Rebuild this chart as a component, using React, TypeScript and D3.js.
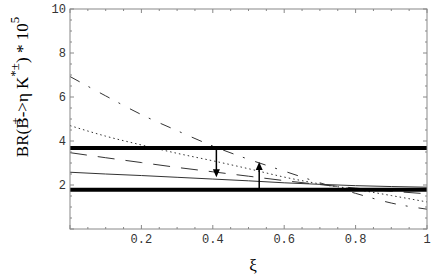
import React, { useEffect, useRef } from 'react';
import * as d3 from 'd3';

// values
const xi = [0, 0.1, 0.2, 0.3, 0.4, 0.5, 0.6, 0.7, 0.8, 0.9, 1];
const solidBR = [2.58, 2.5, 2.43, 2.35, 2.27, 2.19, 2.1, 2.03, 1.97, 1.93, 1.9];
const dashedBR = [3.47, 3.24, 3.02, 2.8, 2.6, 2.4, 2.2, 2.02, 1.86, 1.72, 1.6];
const dottedBR = [4.7, 4.22, 3.82, 3.44, 3.1, 2.74, 2.36, 2.05, 1.8, 1.52, 1.23];
const dashDotBR = [6.93, 6.05, 5.2, 4.47, 3.77, 3.17, 2.63, 2.1, 1.62, 1.18, 0.9];

const bounds = [3.68, 1.78];
const arrowXi = [0.41, 0.53];
const arrowFrom = [3.68, 1.78];
const arrowTo = [2.35, 3.05];

const xTicks = [0.2, 0.4, 0.6, 0.8, 1];
const yTicks = [2, 4, 6, 8, 10];

function Chart() {
  const ref = useRef<SVGSVGElement>(null);

  useEffect(() => {
    const svg = d3.select(ref.current);
    svg.selectAll('*').remove();

    const left = 70, right = 427, top = 9, bottom = 229;
    const x = d3.scaleLinear().domain([0, 1]).range([left, right]);
    const y = d3.scaleLinear().domain([0, 10]).range([bottom, top]);

    const g = svg.append('g');

    // curves
    const line = d3.line<number>()
      .x((d, i) => x(xi[i]))
      .y(d => y(d))
      .curve(d3.curveMonotoneX);

    const series = [
      { v: solidBR, dash: null },
      { v: dashedBR, dash: '17,11' },
      { v: dottedBR, dash: '1.5,3' },
      { v: dashDotBR, dash: '11,10,2,11' },
    ];
    series.forEach(s => {
      g.append('path')
        .attr('d', line(s.v))
        .attr('fill', 'none')
        .attr('stroke', '#333')
        .attr('stroke-width', 1)
        .attr('stroke-dasharray', s.dash);
    });

    // thick bounds
    g.selectAll('.bound').data(bounds).join('line')
      .attr('class', 'bound')
      .attr('x1', x(0)).attr('x2', x(1))
      .attr('y1', d => y(d)).attr('y2', d => y(d))
      .attr('stroke', '#000')
      .attr('stroke-width', 4);

    // arrows
    arrowXi.forEach((a, i) => {
      const ax = x(a), y0 = y(arrowFrom[i]), y1 = y(arrowTo[i]);
      const dir = y1 > y0 ? 1 : -1;
      g.append('line')
        .attr('x1', ax).attr('x2', ax)
        .attr('y1', y0).attr('y2', y1 - dir * 6)
        .attr('stroke', '#000')
        .attr('stroke-width', 1.5);
      g.append('path')
        .attr('d', `M${ax},${y1} L${ax - 3.5},${y1 - dir * 8} L${ax + 3.5},${y1 - dir * 8} Z`)
        .attr('fill', '#000');
    });

    // frame
    const frameColor = '#888';
    g.append('rect')
      .attr('x', left).attr('y', top)
      .attr('width', right - left).attr('height', bottom - top)
      .attr('fill', 'none')
      .attr('stroke', frameColor)
      .attr('stroke-width', 1);

    const xMinor = d3.range(0, 1.001, 0.05);
    const yMinor = d3.range(0, 10.001, 0.5);
    xMinor.forEach(t => {
      const major = Math.abs(Math.round(t * 5) - t * 5) < 1e-6;
      const len = major ? 4 : 2;
      g.append('line').attr('x1', x(t)).attr('x2', x(t))
        .attr('y1', bottom).attr('y2', bottom - len)
        .attr('stroke', frameColor);
      g.append('line').attr('x1', x(t)).attr('x2', x(t))
        .attr('y1', top).attr('y2', top + len)
        .attr('stroke', frameColor);
    });
    yMinor.forEach(t => {
      const major = Math.abs(t / 2 - Math.round(t / 2)) < 1e-6;
      const len = major ? 4 : 2;
      g.append('line').attr('x1', left).attr('x2', left + len)
        .attr('y1', y(t)).attr('y2', y(t))
        .attr('stroke', frameColor);
      g.append('line').attr('x1', right).attr('x2', right - len)
        .attr('y1', y(t)).attr('y2', y(t))
        .attr('stroke', frameColor);
    });

    // tick labels
    g.selectAll('.xlab').data(xTicks).join('text')
      .attr('class', 'xlab')
      .attr('x', d => x(d))
      .attr('y', 243)
      .attr('text-anchor', 'middle')
      .attr('fill', '#333')
      .style('font-family', '"Courier New", "Liberation Mono", monospace')
      .style('font-size', '12px')
      .text(d => d === 1 ? '1' : d.toFixed(1));

    g.selectAll('.ylab').data(yTicks).join('text')
      .attr('class', 'ylab')
      .attr('x', 66)
      .attr('y', d => y(d))
      .attr('dy', '0.35em')
      .attr('text-anchor', 'end')
      .attr('fill', '#333')
      .style('font-family', '"Courier New", "Liberation Mono", monospace')
      .style('font-size', '12px')
      .text(d => d);

    // axis titles
    g.append('text')
      .attr('x', 253).attr('y', 271)
      .attr('text-anchor', 'middle')
      .style('font-family', '"Liberation Serif", serif')
      .style('font-size', '17px')
      .text('ξ');

    const yt = g.append('text')
      .attr('transform', 'translate(28, 87) rotate(-90)')
      .attr('text-anchor', 'middle')
      .style('font-family', '"Liberation Serif", serif')
      .style('font-size', '17px');
    yt.append('tspan').text('BR(B');
    yt.append('tspan').attr('dy', -8).attr('dx', -7).style('font-size', '13px').text('±');
    yt.append('tspan').attr('dy', 8).text('->η  K');
    yt.append('tspan').attr('dy', -9).style('font-size', '13px').text('*±');
    yt.append('tspan').attr('dy', 9).text(') * 10');
    yt.append('tspan').attr('dy', -9).style('font-size', '13px').text('5');
  }, []);

  return (
    <svg ref={ref} width={436} height={278}
      style={{ position: 'absolute', left: 0, top: 0, background: '#fff' }} />
  );
}

export default function App() {
  return <Chart />;
}
